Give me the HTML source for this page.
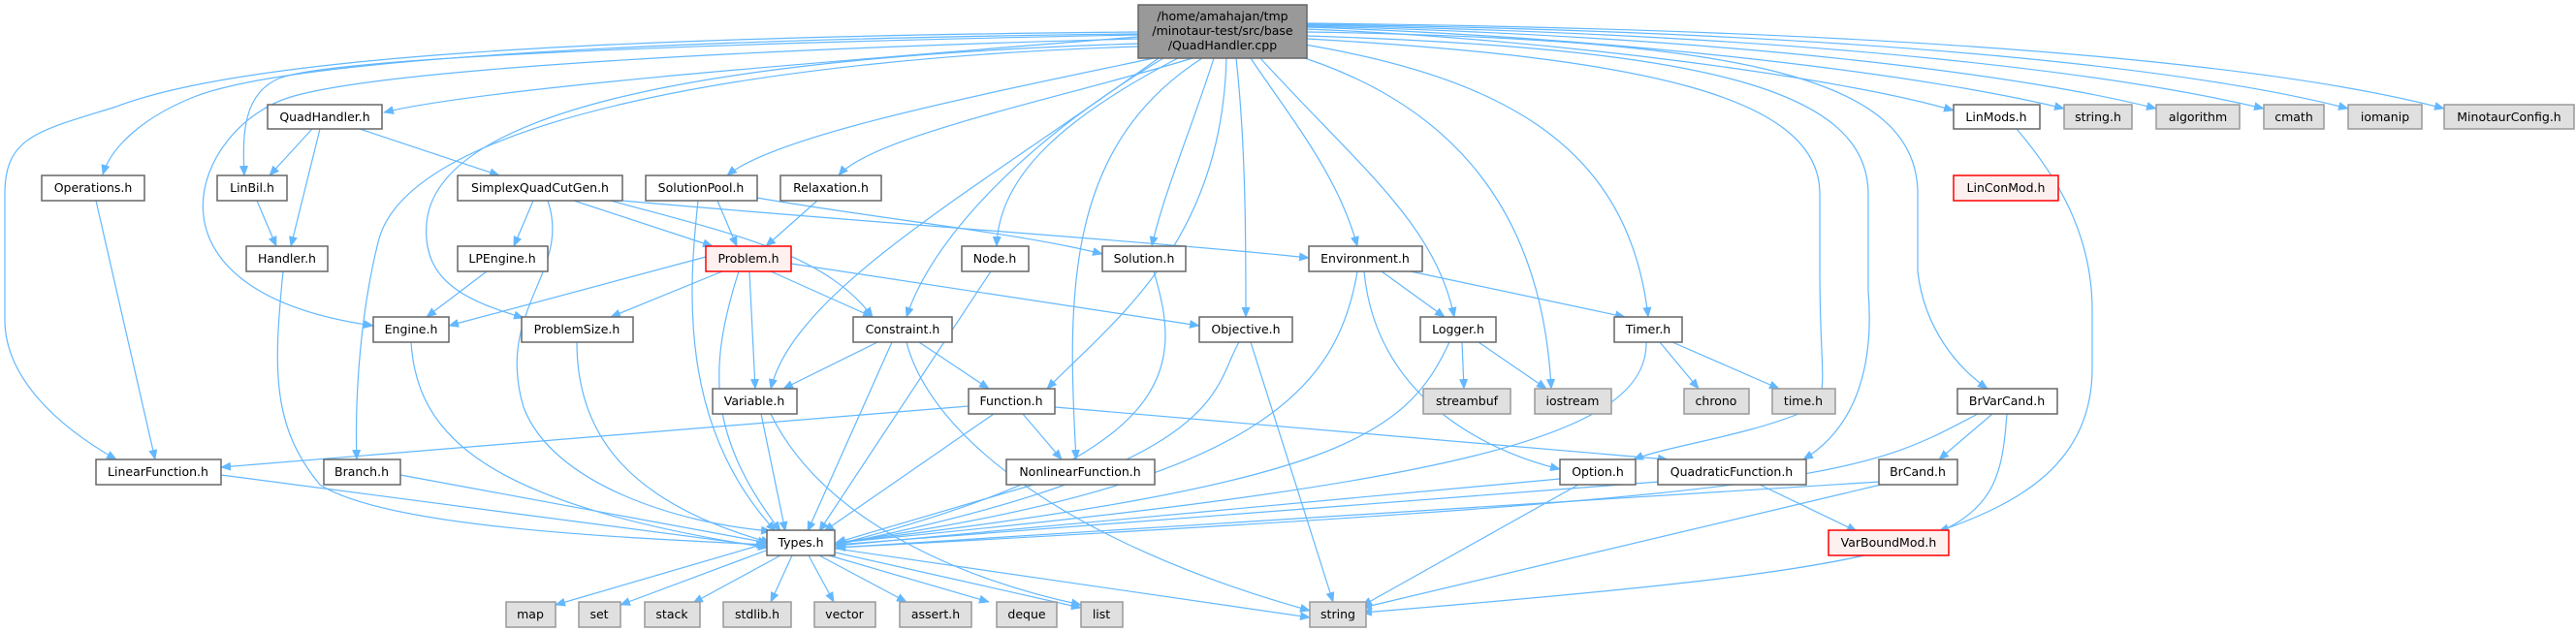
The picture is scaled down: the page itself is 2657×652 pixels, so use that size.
<!DOCTYPE html>
<html><head><meta charset="utf-8"><style>
html,body{margin:0;padding:0;background:#fff;}
svg{display:block;}
text{font-family:"DejaVu Sans","Liberation Sans",sans-serif;font-size:12.5px;fill:#000;text-anchor:middle;}
.e{fill:none;stroke:#63b8ff;stroke-width:1.2;marker-end:url(#a);}
.n{fill:#fff;stroke:#666;stroke-width:1.5;}
.g{fill:#e0e0e0;stroke:#999;stroke-width:1.5;}
.r{fill:#fff0f0;stroke:#f00;stroke-width:1.5;}
</style></head><body>
<svg width="2657" height="652" viewBox="0 0 2657 652" xmlns="http://www.w3.org/2000/svg">
<defs><marker id="a" markerWidth="11" markerHeight="9" refX="10" refY="4.5" orient="auto" markerUnits="userSpaceOnUse"><path d="M0,0L11,4.5L0,9z" fill="#63b8ff"/></marker></defs>
<g>
<!-- from top node -->
<path class="e" d="M1174,38 C900,60 500,90 396,116"/>
<path class="e" d="M1174,35 C700,40 300,60 200,100 C150,120 115,150 106,180"/>
<path class="e" d="M1174,33 C600,38 250,60 120,110 C40,135 5,140 5,200 L5,330 C5,390 60,440 120,474"/>
<path class="e" d="M1174,36 C700,45 350,60 290,80 C250,95 250,140 252,181"/>
<path class="e" d="M1174,40 C800,50 400,70 300,100 C200,130 130,300 385,336"/>
<path class="e" d="M1174,45 C700,60 450,120 440,230 C435,290 480,310 540,328"/>
<path class="e" d="M1174,48 C800,60 420,120 390,250 C370,330 366,420 368,474"/>
<path class="e" d="M1190,60 C1000,100 800,140 750,181"/>
<path class="e" d="M1230,60 C1100,100 900,140 865,181"/>
<path class="e" d="M1200,60 C1050,150 960,250 935,327"/>
<path class="e" d="M1195,60 C1000,200 820,300 795,401"/>
<path class="e" d="M1215,60 C1100,120 1030,180 1028,254"/>
<path class="e" d="M1240,60 C1100,150 1100,300 1110,474"/>
<path class="e" d="M1265,60 C1260,250 1150,330 1080,401"/>
<path class="e" d="M1252,60 C1230,130 1200,200 1188,254"/>
<path class="e" d="M1275,60 C1285,150 1285,250 1285,327"/>
<path class="e" d="M1290,60 C1330,120 1380,180 1400,254"/>
<path class="e" d="M1300,60 C1400,170 1480,230 1500,327"/>
<path class="e" d="M1330,55 C1480,100 1590,200 1600,401"/>
<path class="e" d="M1340,45 C1550,80 1680,150 1700,327"/>
<path class="e" d="M1348,40 C1700,60 1877,100 1877,200 L1877,280 C1877,400 1890,410 1860,425 C1800,450 1720,460 1685,474"/>
<path class="e" d="M1348,37 C1750,50 1927,90 1927,200 L1927,300 C1935,400 1900,450 1860,474"/>
<path class="e" d="M1348,33 C1800,40 1978,80 1978,200 L1978,280 C1985,340 2020,380 2050,401"/>
<path class="e" d="M1348,30 C1600,40 1900,80 2015,114"/>
<path class="e" d="M1348,28 C1700,40 2000,80 2129,112"/>
<path class="e" d="M1348,27 C1800,38 2100,80 2224,112"/>
<path class="e" d="M1348,26 C1900,36 2200,80 2335,112"/>
<path class="e" d="M1348,25 C2000,34 2300,80 2422,112"/>
<path class="e" d="M1348,24 C2100,32 2400,80 2521,112"/>
<path class="e" d="M2080,133 C2120,180 2158,240 2158,320 L2158,380 C2158,480 2080,520 2000,548"/>
<!-- others -->
<path class="e" d="M322,133 L278,181"/>
<path class="e" d="M330,133 L300,254"/>
<path class="e" d="M371,133 L515,181"/>
<path class="e" d="M265,207 L285,254"/>
<path class="e" d="M292,280 C282,380 280,440 330,500 C400,545 650,555 790,562"/>
<path class="e" d="M99,207 L160,474"/>
<path class="e" d="M550,207 L530,254"/>
<path class="e" d="M592,207 L735,254"/>
<path class="e" d="M630,207 C750,240 850,260 900,327"/>
<path class="e" d="M565,207 C590,280 510,320 540,420 C570,500 700,540 795,548"/>
<path class="e" d="M642,207 C900,230 1200,250 1350,266"/>
<path class="e" d="M781,204 C900,225 1050,240 1137,262"/>
<path class="e" d="M502,280 L440,327"/>
<path class="e" d="M740,207 L760,254"/>
<path class="e" d="M720,207 C710,300 700,440 800,548"/>
<path class="e" d="M843,207 L790,254"/>
<path class="e" d="M728,265 L463,336"/>
<path class="e" d="M745,280 L630,327"/>
<path class="e" d="M773,280 L779,401"/>
<path class="e" d="M762,280 C730,380 730,450 805,548"/>
<path class="e" d="M795,280 L900,327"/>
<path class="e" d="M816,272 L1237,336"/>
<path class="e" d="M424,353 C430,450 500,520 792,565"/>
<path class="e" d="M595,353 C595,450 650,520 795,560"/>
<path class="e" d="M905,353 L808,401"/>
<path class="e" d="M948,353 L1020,401"/>
<path class="e" d="M920,353 L833,548"/>
<path class="e" d="M935,353 C960,450 1100,560 1351,630"/>
<path class="e" d="M785,427 L810,548"/>
<path class="e" d="M795,427 C850,540 1000,600 1115,624"/>
<path class="e" d="M999,419 L228,482"/>
<path class="e" d="M1055,427 L1095,474"/>
<path class="e" d="M1025,427 L850,548"/>
<path class="e" d="M1088,420 L1720,474"/>
<path class="e" d="M1066,500 L862,560"/>
<path class="e" d="M1022,280 L845,548"/>
<path class="e" d="M1190,280 C1220,380 1220,470 862,562"/>
<path class="e" d="M1278,353 C1250,400 1270,480 862,562"/>
<path class="e" d="M1290,353 L1375,621"/>
<path class="e" d="M1425,280 L1490,327"/>
<path class="e" d="M1455,280 L1676,327"/>
<path class="e" d="M1407,280 C1420,420 1550,470 1609,484"/>
<path class="e" d="M1400,280 C1380,400 1300,500 862,560"/>
<path class="e" d="M1508,353 L1510,401"/>
<path class="e" d="M1525,353 L1595,401"/>
<path class="e" d="M1495,353 C1450,450 1380,500 862,560"/>
<path class="e" d="M1712,353 L1752,401"/>
<path class="e" d="M1725,353 L1835,401"/>
<path class="e" d="M1698,353 C1700,450 1500,500 862,560"/>
<path class="e" d="M228,490 L792,564"/>
<path class="e" d="M413,490 L792,560"/>
<path class="e" d="M1609,494 L862,563"/>
<path class="e" d="M1628,500 L1405,625"/>
<path class="e" d="M1711,497 L862,562"/>
<path class="e" d="M1815,500 L1915,548"/>
<path class="e" d="M2055,427 L2000,474"/>
<path class="e" d="M2040,427 C1920,490 1900,510 862,565"/>
<path class="e" d="M2070,427 C2060,560 2040,580 1405,632"/>
<path class="e" d="M1939,497 L862,565"/>
<path class="e" d="M1940,500 L1405,627"/>
<path class="e" d="M792,560 L573,624"/>
<path class="e" d="M798,565 L640,624"/>
<path class="e" d="M805,573 L715,622"/>
<path class="e" d="M817,573 L795,621"/>
<path class="e" d="M834,573 L860,621"/>
<path class="e" d="M845,573 L935,621"/>
<path class="e" d="M855,573 L1020,621"/>
<path class="e" d="M862,570 L1115,627"/>
<path class="e" d="M862,566 L1351,637"/>
</g>
<g>
<rect x="1174" y="5" width="174" height="55" fill="#999" stroke="#666" stroke-width="1.5"/>
<text x="1261" y="21">/home/amahajan/tmp</text>
<text x="1261" y="36">/minotaur-test/src/base</text>
<text x="1261" y="51">/QuadHandler.cpp</text>

<rect class="n" x="276" y="108" width="118" height="25"/><text x="335" y="125">QuadHandler.h</text>
<rect class="n" x="2015" y="108" width="89" height="25"/><text x="2059" y="125">LinMods.h</text>
<rect class="g" x="2129" y="108" width="70" height="25"/><text x="2164" y="125">string.h</text>
<rect class="g" x="2224" y="108" width="86" height="25"/><text x="2267" y="125">algorithm</text>
<rect class="g" x="2335" y="108" width="62" height="25"/><text x="2366" y="125">cmath</text>
<rect class="g" x="2422" y="108" width="76" height="25"/><text x="2460" y="125">iomanip</text>
<rect class="g" x="2521" y="108" width="134" height="25"/><text x="2588" y="125">MinotaurConfig.h</text>

<rect class="n" x="43" y="181" width="106" height="26"/><text x="96" y="198">Operations.h</text>
<rect class="n" x="224" y="181" width="72" height="26"/><text x="260" y="198">LinBil.h</text>
<rect class="n" x="472" y="181" width="170" height="26"/><text x="557" y="198">SimplexQuadCutGen.h</text>
<rect class="n" x="666" y="181" width="115" height="26"/><text x="723" y="198">SolutionPool.h</text>
<rect class="n" x="805" y="181" width="104" height="26"/><text x="857" y="198">Relaxation.h</text>
<rect class="r" x="2015" y="181" width="108" height="26"/><text x="2069" y="198">LinConMod.h</text>

<rect class="n" x="254" y="254" width="84" height="26"/><text x="296" y="271">Handler.h</text>
<rect class="n" x="472" y="254" width="93" height="26"/><text x="518" y="271">LPEngine.h</text>
<rect class="r" x="728" y="254" width="88" height="26"/><text x="772" y="271">Problem.h</text>
<rect class="n" x="992" y="254" width="69" height="26"/><text x="1026" y="271">Node.h</text>
<rect class="n" x="1137" y="254" width="86" height="26"/><text x="1180" y="271">Solution.h</text>
<rect class="n" x="1350" y="254" width="117" height="26"/><text x="1408" y="271">Environment.h</text>

<rect class="n" x="385" y="327" width="78" height="26"/><text x="424" y="344">Engine.h</text>
<rect class="n" x="538" y="327" width="115" height="26"/><text x="595" y="344">ProblemSize.h</text>
<rect class="n" x="880" y="327" width="102" height="26"/><text x="931" y="344">Constraint.h</text>
<rect class="n" x="1237" y="327" width="96" height="26"/><text x="1285" y="344">Objective.h</text>
<rect class="n" x="1465" y="327" width="78" height="26"/><text x="1504" y="344">Logger.h</text>
<rect class="n" x="1665" y="327" width="70" height="26"/><text x="1700" y="344">Timer.h</text>

<rect class="n" x="735" y="401" width="87" height="26"/><text x="778" y="418">Variable.h</text>
<rect class="n" x="999" y="401" width="89" height="26"/><text x="1043" y="418">Function.h</text>
<rect class="g" x="1468" y="401" width="90" height="26"/><text x="1513" y="418">streambuf</text>
<rect class="g" x="1583" y="401" width="79" height="26"/><text x="1622" y="418">iostream</text>
<rect class="g" x="1737" y="401" width="67" height="26"/><text x="1770" y="418">chrono</text>
<rect class="g" x="1828" y="401" width="65" height="26"/><text x="1860" y="418">time.h</text>
<rect class="n" x="2019" y="401" width="103" height="26"/><text x="2070" y="418">BrVarCand.h</text>

<rect class="n" x="99" y="474" width="129" height="26"/><text x="163" y="491">LinearFunction.h</text>
<rect class="n" x="334" y="474" width="79" height="26"/><text x="373" y="491">Branch.h</text>
<rect class="n" x="1038" y="474" width="153" height="26"/><text x="1114" y="491">NonlinearFunction.h</text>
<rect class="n" x="1609" y="474" width="78" height="26"/><text x="1648" y="491">Option.h</text>
<rect class="n" x="1710" y="474" width="153" height="26"/><text x="1786" y="491">QuadraticFunction.h</text>
<rect class="n" x="1938" y="474" width="81" height="26"/><text x="1978" y="491">BrCand.h</text>

<rect class="n" x="791" y="547" width="70" height="26"/><text x="826" y="564">Types.h</text>
<rect class="r" x="1886" y="547" width="124" height="26"/><text x="1948" y="564">VarBoundMod.h</text>

<rect class="g" x="522" y="621" width="51" height="26"/><text x="547" y="638">map</text>
<rect class="g" x="597" y="621" width="43" height="26"/><text x="618" y="638">set</text>
<rect class="g" x="665" y="621" width="57" height="26"/><text x="693" y="638">stack</text>
<rect class="g" x="746" y="621" width="70" height="26"/><text x="781" y="638">stdlib.h</text>
<rect class="g" x="840" y="621" width="63" height="26"/><text x="871" y="638">vector</text>
<rect class="g" x="928" y="621" width="74" height="26"/><text x="965" y="638">assert.h</text>
<rect class="g" x="1028" y="621" width="62" height="26"/><text x="1059" y="638">deque</text>
<rect class="g" x="1115" y="621" width="43" height="26"/><text x="1136" y="638">list</text>
<rect class="g" x="1351" y="621" width="58" height="26"/><text x="1380" y="638">string</text>
</g>
</svg>
</body></html>
